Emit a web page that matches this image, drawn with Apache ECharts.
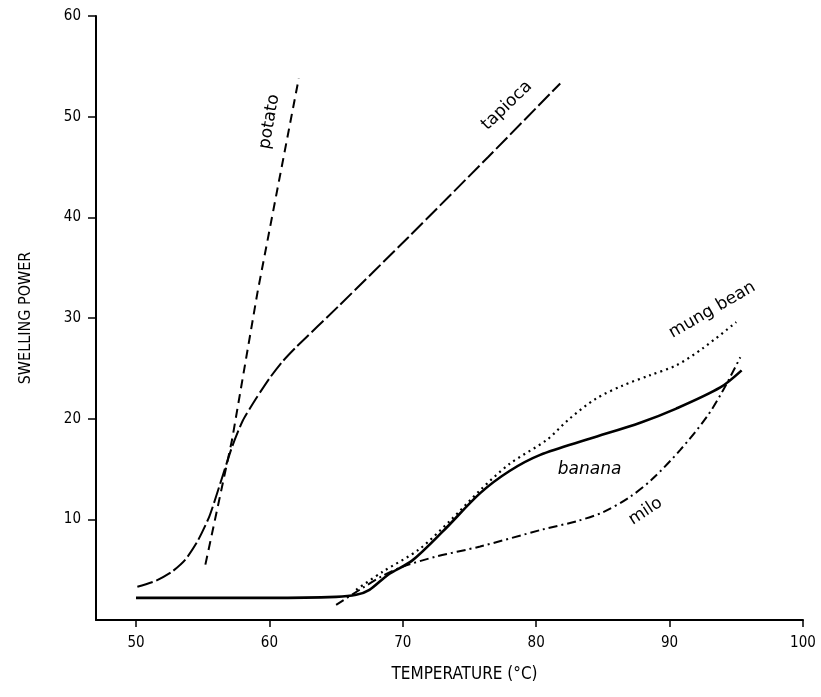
<!DOCTYPE html>
<html><head><meta charset="utf-8">
<script src="https://cdn.jsdelivr.net/npm/echarts@6/dist/echarts.min.js"></script>
<style>html,body{margin:0;padding:0;background:#fff}#c{width:821px;height:697px}</style>
</head><body><div id="c"></div>
<script>
// ---- data (temperature °C, swelling power) ----
const xTicks = [50, 60, 70, 80, 90, 100];
const yTicks = [10, 20, 30, 40, 50, 60];
const xTitle = 'TEMPERATURE (°C)';
const yTitle = 'SWELLING POWER';
const potato = [[55.2, 5.5], [57.2, 17.9], [59.1, 32.5], [62.2, 53.8]];
const tapioca = [[50.1, 3.3], [51.5, 3.9], [52.7, 4.8], [53.7, 6.0], [54.6, 7.8], [55.5, 10.3], [56.3, 13.5], [57.2, 17.2], [58, 19.8], [59, 22.0], [60, 24.0], [61, 25.7], [62, 27.1], [65.2, 31.2], [70.4, 38.0], [76.4, 46.0], [81.8, 53.3]];
const mungBean = [[66.5, 3.0], [68.5, 4.8], [71.2, 7.0], [73.5, 9.8], [75.8, 12.9], [78, 15.5], [80.8, 17.9], [82.5, 20.0], [84.5, 22.0], [86.5, 23.3], [88.5, 24.3], [90.5, 25.3], [92.5, 27.0], [95, 29.6]];
const banana = [[50, 2.2], [55, 2.2], [60, 2.2], [65, 2.3], [66.5, 2.5], [67.5, 3.0], [68.9, 4.5], [70.7, 5.9], [73, 8.8], [75.8, 12.6], [78, 14.8], [80.3, 16.4], [84, 18.0], [87.8, 19.6], [90.5, 21.0], [93.8, 23.1], [95.4, 24.8]];
const milo = [[65, 1.5], [67, 3.2], [68.5, 4.4], [70, 5.3], [72.5, 6.3], [75.8, 7.3], [80.5, 9.0], [83, 9.8], [85, 10.7], [87, 12.2], [88.7, 14.0], [90.8, 16.9], [92.8, 20.2], [94, 22.8], [95.3, 26.1]];
// curve labels: [temperature, swelling power, text, rotation deg, italic]
const curveLabels = [
  [60.0, 49.5, 'potato', 80, false],
  [77.8, 51.1, 'tapioca', 44, false],
  [93.2, 30.8, 'mung bean', 30, false],
  [84.0, 14.9, 'banana', 0, true],
  [88.2, 10.8, 'milo', 33, false]
];

const ink = '#000';
const font = "'DejaVu Sans Condensed','DejaVu Sans',sans-serif";
const chart = echarts.init(document.getElementById('c'));
function lineSeries(name, data, type, width, smooth) {
  return {
    name, type: 'line', data, showSymbol: false, symbol: 'none', smooth: smooth,
    lineStyle: { color: ink, width: width, type: type, cap: 'butt' },
    silent: true, z: 3
  };
}
chart.setOption({
  backgroundColor: '#fff',
  animation: false,
  grid: { left: 96, right: 18, top: 16, bottom: 77 },
  xAxis: {
    type: 'value', min: 47, max: 100,
    name: xTitle, nameLocation: 'middle', nameGap: 46,
    nameTextStyle: { color: ink, fontFamily: font, fontSize: 17, padding: [0, 0, 0, 30] },
    axisLine: { show: true, onZero: false, lineStyle: { color: ink, width: 2 } },
    axisTick: { show: true, length: 7, lineStyle: { color: ink, width: 1.5 }, customValues: xTicks },
    axisLabel: { color: ink, fontFamily: font, fontSize: 15, margin: 16, customValues: xTicks },
    splitLine: { show: false }
  },
  yAxis: {
    type: 'value', min: 0, max: 60,
    name: yTitle, nameLocation: 'middle', nameGap: 62,
    nameTextStyle: { color: ink, fontFamily: font, fontSize: 16 },
    axisLine: { show: true, lineStyle: { color: ink, width: 2 } },
    axisTick: { show: true, length: 8, lineStyle: { color: ink, width: 1.5 }, customValues: yTicks },
    axisLabel: { color: ink, fontFamily: font, fontSize: 15, margin: 15, customValues: yTicks },
    splitLine: { show: false }
  },
  series: [
    lineSeries('potato', potato, [9, 6], 2, false),
    lineSeries('tapioca', tapioca, [16, 4], 2, 0.2),
    lineSeries('mung bean', mungBean, [2, 4], 2.2, 0.3),
    lineSeries('banana', banana, 'solid', 2.6, 0.3),
    lineSeries('milo', milo, [9, 4, 2, 4], 2, 0.3),
    {
      type: 'scatter', symbolSize: 0, silent: true, z: 5,
      itemStyle: { color: ink, opacity: 1 },
      data: curveLabels.map(d => ({
        value: [d[0], d[1]], name: d[2],
        label: { rotate: d[3], fontStyle: d[4] ? 'italic' : 'normal' }
      })),
      label: {
        show: true, position: 'inside', formatter: p => p.name,
        color: ink, opacity: 1, textBorderWidth: 0,
        fontFamily: "'DejaVu Sans',sans-serif", fontSize: 17
      }
    }
  ]
});
</script></body></html>
